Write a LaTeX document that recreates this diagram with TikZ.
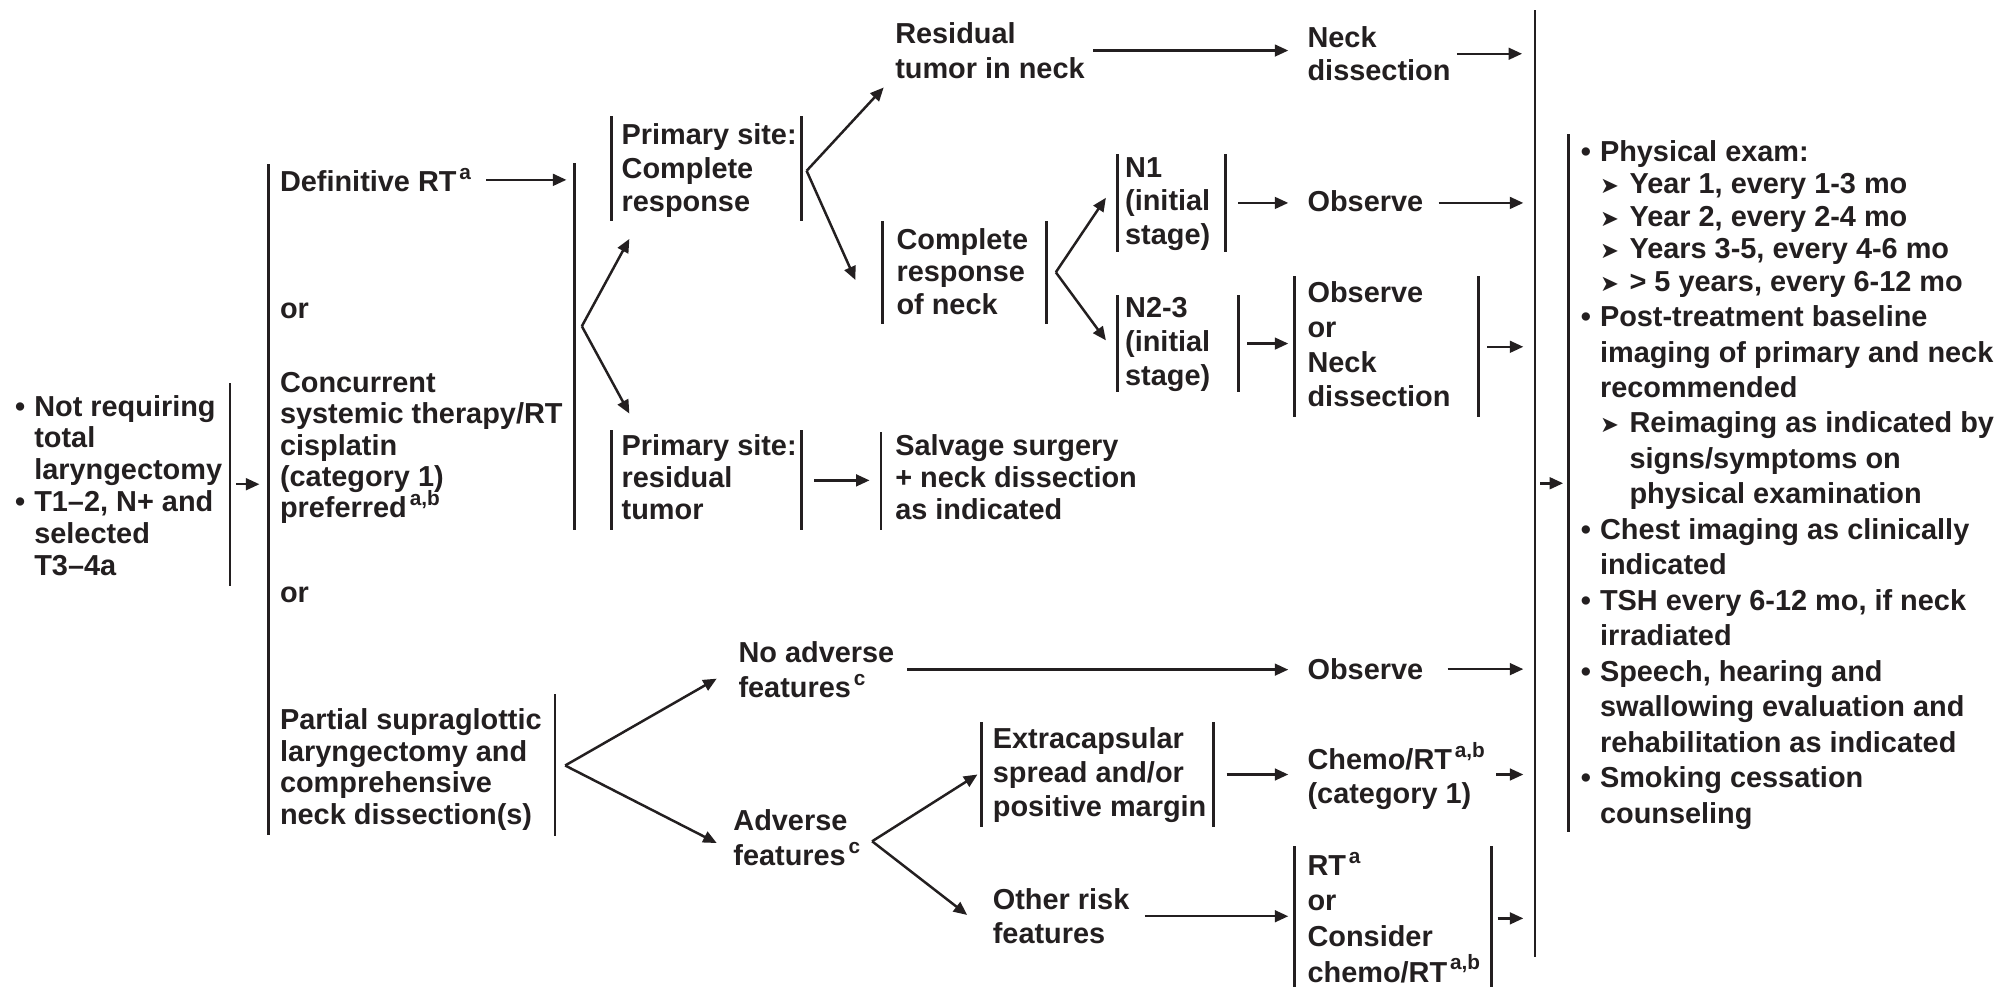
\documentclass[tikz,border=0pt]{standalone}
\usepackage{fontspec}
\setmainfont{Liberation Sans}
\newfontfamily\arrowfont{DejaVu Sans}
\usetikzlibrary{arrows.meta}
\definecolor{ink}{RGB}{35,31,32}
\newcommand{\fnsup}[1]{\hspace{0.1em}\raisebox{0.42em}{\fontsize{4.6pt}{4.6pt}\selectfont #1}}
\newcommand{\bul}{\makebox[1.5mm][l]{\textbullet}}
\newcommand{\bulpad}{\hspace*{1.5mm}}
\newcommand{\subarr}{\makebox[2.3mm][l]{{\arrowfont\fontsize{5pt}{5pt}\selectfont ➤}}}
\newcommand{\subpad}{\hspace*{3.8mm}}
\tikzset{
  lead/.style={font={\bfseries\fontsize{6.4pt}{#1}\selectfont\lineskiplimit-5pt\relax}},
  txt/.style={text=ink, align=left, inner sep=0pt, outer sep=0pt, anchor=north west, lead=7.2pt},
  word/.style={text=ink, inner sep=0pt, outer sep=0pt, anchor=base west, lead=7.2pt},
  vbar/.style={fill=ink, inner sep=0pt, outer sep=0pt, minimum width=0.6pt, minimum height=#1},
  arr/.style={draw=ink, line width=0.55pt, -{Triangle[length=3pt,width=2.6pt]}},
}

\begin{document}
\begin{tikzpicture}[x=0.1mm, y=-0.1mm]
\useasboundingbox (0,0) rectangle (1568,768);
\node[txt, lead=7.05pt] (pres) at (11.7,307.6) {\bul Not requiring\\ \bulpad total\\ \bulpad laryngectomy\\ \bul T1--2, N+ and\\ \bulpad selected\\ \bulpad T3--4a};
\node[word] (defrt) at (218,149) {Definitive RT\fnsup{a}};
\node[word] (or1) at (218,248) {or};
\node[txt, lead=6.97pt] (conc) at (218,289.6) {Concurrent\\ systemic therapy/RT\\ cisplatin\\ (category 1)\\ preferred\fnsup{a,b}};
\node[word] (or2) at (218,469) {or};
\node[txt, lead=7.02pt] (partial) at (218,551.6) {Partial supraglottic\\ laryngectomy and\\ comprehensive\\ neck dissection(s)};
\node[txt, lead=7.4pt] (pcr) at (484,96.6) {Primary site:\\ Complete\\ response};
\node[txt, lead=7.1pt] (prt) at (484,338.6) {Primary site:\\ residual\\ tumor};
\node[txt, lead=7.68pt] (resid) at (697,17.6) {Residual\\ tumor in neck};
\node[txt, lead=7.4pt] (neckd) at (1018,20.6) {Neck\\ dissection};
\node[txt, lead=7.25pt] (cneck) at (698,177.6) {Complete\\ response\\ of neck};
\node[txt, lead=7.4pt] (n1) at (876,122.6) {N1\\ (initial\\ stage)};
\node[word] (obs1) at (1018,165) {Observe};
\node[txt, lead=7.54pt] (n23) at (876,231.6) {N2-3\\ (initial\\ stage)};
\node[txt, lead=7.68pt] (obsneck) at (1018,219.6) {Observe\\ or\\ Neck\\ dissection};
\node[txt, lead=7.1pt] (salv) at (697,338.6) {Salvage surgery\\ + neck dissection\\ as indicated};
\node[txt, lead=7.68pt] (noadv) at (575,499.6) {No adverse\\ features\fnsup{c}};
\node[word] (obs2) at (1018,529) {Observe};
\node[txt, lead=7.68pt] (adv) at (571,630.6) {Adverse\\ features\fnsup{c}};
\node[txt, lead=7.54pt] (extra) at (773,566.6) {Extracapsular\\ spread and/or\\ positive margin};
\node[txt, lead=7.4pt] (chemo) at (1018,578.3) {Chemo/RT\fnsup{a,b}\\ (category 1)};
\node[txt, lead=7.68pt] (other) at (773,691.6) {Other risk\\ features};
\node[txt, lead=7.88pt] (rtor) at (1018,663.4) {RT\fnsup{a}\\ or\\ Consider\\ chemo/RT\fnsup{a,b}};
\node[txt, lead=7.86pt] (fu) at (1230.7,109.5) {\bul Physical exam:\\[-0.69pt]
  \bulpad\subarr Year 1, every 1-3 mo\\[-0.69pt]
  \bulpad\subarr Year 2, every 2-4 mo\\[-0.69pt]
  \bulpad\subarr Years 3-5, every 4-6 mo\\[-0.69pt]
  \bulpad\subarr > 5 years, every 6-12 mo\\
  \bul Post-treatment baseline\\
  \bulpad imaging of primary and neck\\
  \bulpad recommended\\
  \bulpad\subarr Reimaging as indicated by\\
  \subpad signs/symptoms on\\
  \subpad physical examination\\
  \bul Chest imaging as clinically\\
  \bulpad indicated\\
  \bul TSH every 6-12 mo, if neck\\
  \bulpad irradiated\\
  \bul Speech, hearing and\\
  \bulpad swallowing evaluation and\\
  \bulpad rehabilitation as indicated\\
  \bul Smoking cessation\\
  \bulpad counseling};
\node[vbar=15.8mm] (b0) at (179,377) {};
\node[vbar=52.2mm] (b1) at (209,389) {};
\node[vbar=28.6mm] (b2) at (447,270) {};
\node[vbar=11.1mm] (b3) at (432,595.5) {};
\node[vbar=8.2mm] (pcrL) at (476,131) {};
\node[vbar=8.2mm] (pcrR) at (624,131) {};
\node[vbar=7.8mm] (prtL) at (476,374) {};
\node[vbar=7.8mm] (prtR) at (624,374) {};
\node[vbar=8mm] (cnL) at (687,212) {};
\node[vbar=8mm] (cnR) at (815,212) {};
\node[vbar=7.6mm] (n1L) at (870,158) {};
\node[vbar=7.6mm] (n1R) at (954,158) {};
\node[vbar=7.5mm] (n23L) at (870,267.5) {};
\node[vbar=7.5mm] (n23R) at (964,267.5) {};
\node[vbar=11mm] (onL) at (1008,270) {};
\node[vbar=11mm] (onR) at (1151,270) {};
\node[vbar=7.7mm] (salL) at (686,374.5) {};
\node[vbar=8.2mm] (exL) at (764,603) {};
\node[vbar=8.2mm] (exR) at (945,603) {};
\node[vbar=11.2mm] (rtL) at (1008,715) {};
\node[vbar=11.2mm] (rtR) at (1161,715) {};
\node[vbar=73.75mm] (fin) at (1195,376.25) {};
\node[vbar=54.4mm] (fuL) at (1221,376) {};
\coordinate (f1) at (453,254);
\coordinate (f2) at (628,133);
\coordinate (f3) at (822,212);
\coordinate (f4) at (440,596);
\coordinate (f5) at (679,655);
\draw[arr, shorten <=0.4mm, shorten >=0.7mm] (b0) -- (b0 -| b1);
\draw[arr, shorten <=1.2mm, shorten >=0.6mm] (defrt.east) -- (defrt.east -| b2);
\draw[arr] (f1) -- ([shift={(14,14)}]pcrL.south);
\draw[arr] (f1) -- ([shift={(14,-13)}]prtL.north);
\draw[arr] (f2) -- ([shift={(-9,7)}]resid.south west);
\draw[arr] (f2) -- ([shift={(-21,6)}]cnL.center);
\draw[arr, shorten <=0.65mm, shorten >=1.5mm] (resid.east) -- (resid.east -| neckd.west);
\draw[arr, shorten <=0.5mm, shorten >=1mm] (neckd.east) -- (neckd.east -| fin);
\draw[arr] (f3) -- ([shift={(-9,-4)}]n1L.center);
\draw[arr] (f3) -- ([shift={(-9,-2.5)}]n23L.center);
\draw[arr, shorten <=0.9mm, shorten >=1.5mm] (n1R) -- (n1R -| obs1.west);
\draw[arr, shorten <=1.2mm, shorten >=0.9mm] (n1R -| obs1.east) -- (n1R -| fin);
\draw[arr, shorten <=0.6mm, shorten >=0.5mm] (n23R) -- (n23R -| onL);
\draw[arr, shorten <=0.6mm, shorten >=0.9mm] (onR) -- (onR -| fin);
\draw[arr, shorten <=0.9mm, shorten >=0.9mm] (prtR) -- (prtR -| salL);
\draw[arr] (f4) -- ([shift={(-17,7)}]noadv.west);
\draw[arr] (f4) -- ([shift={(-13,4)}]adv.west);
\draw[arr, shorten <=1mm, shorten >=1.5mm] (noadv.east) -- (noadv.east -| obs2.west);
\draw[arr, shorten <=1.9mm, shorten >=0.9mm] (obs2.east) -- (obs2.east -| fin);
\draw[arr] (f5) -- ([shift={(-3,0)}]exL.center);
\draw[arr] (f5) -- ([shift={(-20,-1)}]other.west);
\draw[arr, shorten <=0.9mm, shorten >=1.5mm] (exR) -- (exR -| chemo.west);
\draw[arr, shorten <=0.9mm, shorten >=0.9mm] (exR -| chemo.east) -- (exR -| fin);
\draw[arr, shorten <=1.2mm, shorten >=0.5mm] (other.east) -- (other.east -| rtL);
\draw[arr, shorten <=0.4mm, shorten >=0.9mm] (rtR) -- (rtR -| fin);
\draw[arr, shorten <=0.3mm, shorten >=0.4mm] (fin) -- (fin -| fuL);
\end{tikzpicture}
\end{document}
